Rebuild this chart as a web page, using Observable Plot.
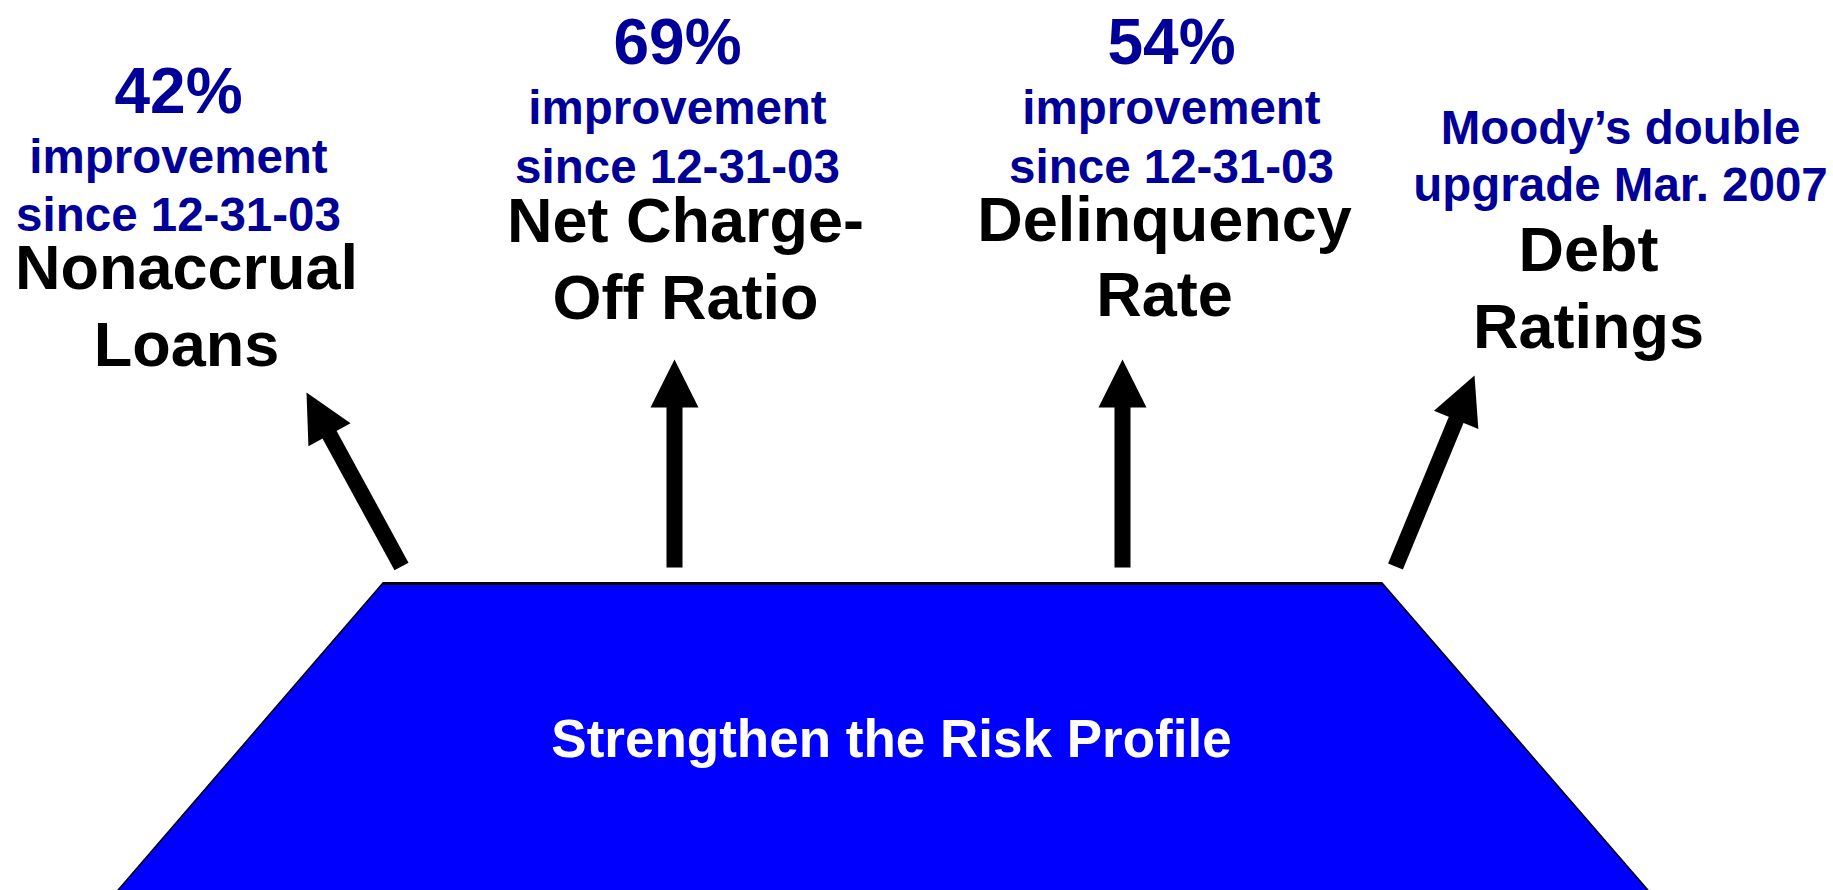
<!DOCTYPE html>
<html><head><meta charset="utf-8">
<script src="https://cdn.jsdelivr.net/npm/d3@7"></script>
<script src="https://cdn.jsdelivr.net/npm/@observablehq/plot@0.6"></script>
<style>html,body{margin:0;padding:0;background:#fff;overflow:hidden}</style>
</head><body><div id="chart"></div>
<script>
// ---- content ----
const metricLabels = [["Nonaccrual","Loans"],["Net Charge-","Off Ratio"],["Delinquency","Rate"],["Debt","Ratings"]];
const improvements = ["42%","69%","54%",""];
const noteLines = [["improvement","since 12-31-03"],["improvement","since 12-31-03"],["improvement","since 12-31-03"],["Moody\u2019s double","upgrade Mar. 2007"]];
const foundationLabel = "Strengthen the Risk Profile";

// ---- layout (pixel space) ----
const W = 1833, H = 890;
const noteX = [178, 677, 1171, 1620];
const labelX = [186, 685, 1164, 1588];
const pctBaseline = [112, 63, 63, null];
const noteBaselines = [[172,230],[123,182],[123,182],[143,200]];
const labelBaselines = [[288,365],[241,318],[240,315],[270,347]];
const arrowTails = [[401,566],[674,567],[1122,567],[1395,566]];
const arrowTips = [[306,392],[674,359],[1122,359],[1474,375]];
const trapezoid = [[382,583],[1382,583],[1653,896],[112,896],[382,583]];
const foundationPos = [891, 756];
const HEAD_LEN = 48, HEAD_HALF = 24, SHAFT_W = 16;

// ---- derived tables ----
const pctRows = improvements.map((t,i)=>({x:noteX[i], y:pctBaseline[i], t})).filter(d=>d.t);
const noteRows = noteLines.flatMap((ls,i)=>ls.map((t,j)=>({x:noteX[i], y:noteBaselines[i][j], t})));
const labelRows = metricLabels.flatMap((ls,i)=>ls.map((t,j)=>({x:labelX[i], y:labelBaselines[i][j], t})));
const shafts = [], heads = [];
arrowTails.forEach((tail,i)=>{
  const tip = arrowTips[i];
  const dx = tip[0]-tail[0], dy = tip[1]-tail[1], L = Math.hypot(dx,dy);
  const ux = dx/L, uy = dy/L, px = -uy, py = ux;
  const bx = tip[0]-HEAD_LEN*ux, by = tip[1]-HEAD_LEN*uy;
  shafts.push({x1:tail[0], y1:tail[1], x2:bx+2*ux, y2:by+2*uy});
  heads.push({id:i, x:tip[0], y:tip[1]});
  heads.push({id:i, x:bx+HEAD_HALF*px, y:by+HEAD_HALF*py});
  heads.push({id:i, x:bx-HEAD_HALF*px, y:by-HEAD_HALF*py});
});
const trap = trapezoid.map(([x,y])=>({x,y}));
const topEdge = [{x1:trapezoid[0][0], y1:trapezoid[0][1], x2:trapezoid[1][0], y2:trapezoid[1][1]}];

const FONT = "'Liberation Sans', Arial, Helvetica, sans-serif";
const NAVY = "#000099";

const chart = Plot.plot({
  width: W, height: H, margin: 0,
  x: {domain:[0,W], range:[0,W], axis:null},
  y: {domain:[0,H], range:[0,H], axis:null},
  style: {background:"white"},
  marks: [
    Plot.line(trap, {x:"x", y:"y", fill:"#0000ff", stroke:"black", strokeWidth:1.5}),
    Plot.link(topEdge, {x1:"x1", y1:"y1", x2:"x2", y2:"y2", stroke:"black", strokeWidth:3}),
    Plot.link(shafts, {x1:"x1", y1:"y1", x2:"x2", y2:"y2", stroke:"black", strokeWidth:SHAFT_W, strokeLinecap:"butt"}),
    Plot.line(heads, {x:"x", y:"y", z:"id", fill:"black", stroke:"none"}),
    Plot.text(pctRows, {x:"x", y:"y", text:"t", fill:NAVY, fontSize:64, fontWeight:"bold", fontFamily:FONT, lineAnchor:"bottom", textAnchor:"middle"}),
    Plot.text(noteRows, {x:"x", y:"y", text:"t", fill:NAVY, fontSize:47.5, fontWeight:"bold", fontFamily:FONT, lineAnchor:"bottom", textAnchor:"middle"}),
    Plot.text(labelRows, {x:"x", y:"y", text:"t", fill:"black", fontSize:63, fontWeight:"bold", fontFamily:FONT, lineAnchor:"bottom", textAnchor:"middle"}),
    Plot.text([foundationLabel], {x:()=>foundationPos[0], y:()=>foundationPos[1], text:d=>d, fill:"white", fontSize:53, fontWeight:"bold", fontFamily:FONT, lineAnchor:"bottom", textAnchor:"middle"})
  ]
});
document.getElementById("chart").appendChild(chart);
</script>
</body></html>
